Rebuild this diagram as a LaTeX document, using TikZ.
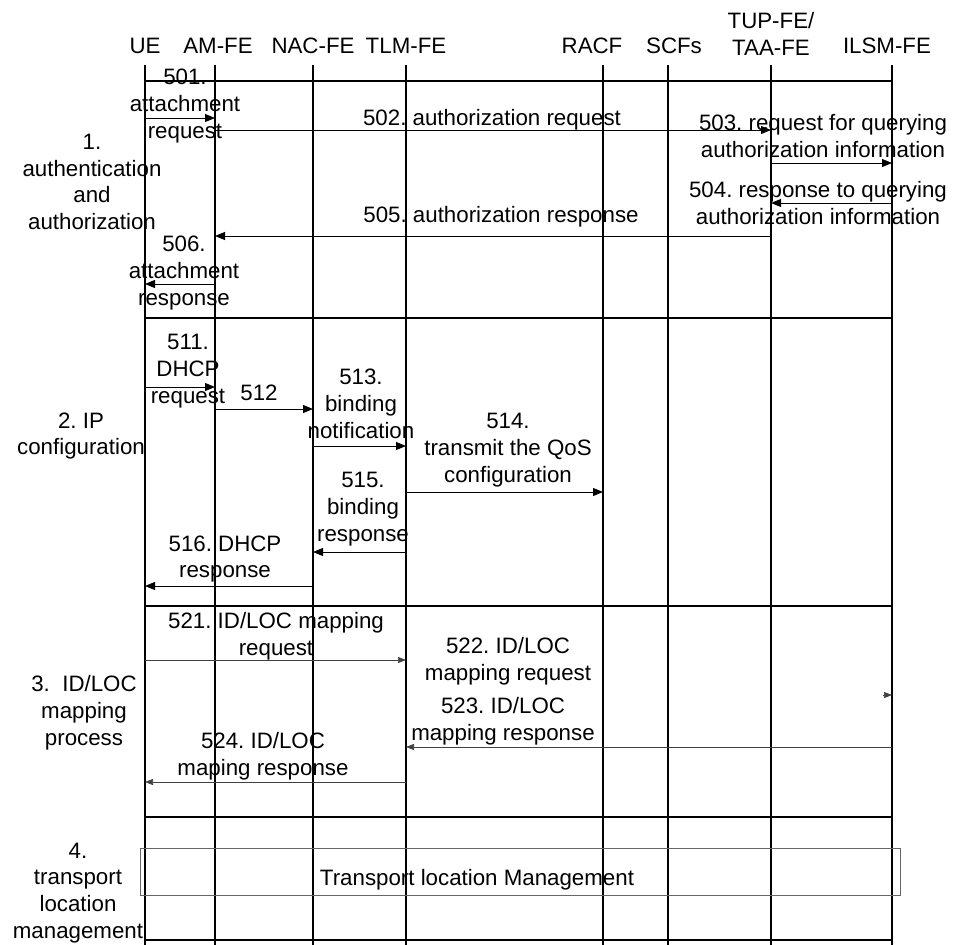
\documentclass[tikz,border=0pt]{standalone}
\usepackage{fontspec}
\setmainfont{Liberation Sans}
\usetikzlibrary{arrows.meta}
\frenchspacing
\begin{document}
\begin{tikzpicture}[x=1pt,y=-1pt,
  lbl/.style={font=\fontsize{22.3}{26.8}\selectfont\frenchspacing, align=center, inner sep=0pt},
  life/.style={line width=2pt},
  sepline/.style={line width=2.2pt},
  msg/.style={line width=1pt, -{Triangle[length=10pt,width=8pt]}},
  thinmsg/.style={line width=0.6pt, draw=black!75, -{Triangle[length=8pt,width=6pt]}},
  tlbox/.style={draw=black!60, line width=0.8pt}]
\useasboundingbox (0,0) rectangle (956,945);
% participants (headers)
\node[lbl, anchor=base] (hue)   at (145,53) {UE};
\node[lbl, anchor=base] (ham)   at (218,53) {AM-FE};
\node[lbl, anchor=base] (hnac)  at (313,53) {NAC-FE};
\node[lbl, anchor=base] (htlm)  at (406,53) {TLM-FE};
\node[lbl, anchor=base] (hracf) at (592,53) {RACF};
\node[lbl, anchor=base] (hscf)  at (674,53) {SCFs};
\node[lbl] (htup)  at (771,34) {TUP-FE/\\TAA-FE};
\node[lbl, anchor=base] (hilsm) at (887,53) {ILSM-FE};
% lifeline tops
\coordinate (ue) at (145,65);
\coordinate (am) at (215,65);
\coordinate (nac) at (313,65);
\coordinate (tlm) at (406,65);
\coordinate (racf) at (603,65);
\coordinate (scf) at (668,65);
\coordinate (tup) at (771,65);
\coordinate (ilsm) at (892,65);
\foreach \p in {ue,am,nac,racf,scf,tup,ilsm}
  \draw[life] (\p) -- (\p |- 0,945);
\draw[line width=2.6pt] (tlm) -- (tlm |- 0,945);
% section separators
\foreach \yy in {81,318,606,817,940}
  \draw[sepline] (ue |- 0,\yy) -- (ilsm |- 0,\yy);
% section labels
\node[lbl] (s1) at (92,182) {1.\\authentication\\and\\authorization};
\node[lbl] (s2) at (81,436) {2. IP\\configuration};
\node[lbl] (s3) at (84,713) {3.\ \ ID/LOC\\mapping\\process};
\node[lbl] (s4) at (78,893) {4.\\transport\\location\\management};
% section 1 messages
\draw[msg] (ue |- 0,118) -- (am |- 0,118);
\node[lbl] (l501) at (185,106) {501.\\attachment\\request};
\draw[msg] (am |- 0,130) -- (tup |- 0,130);
\node[lbl, anchor=base] (l502) at (492,125) {502. authorization request};
\draw[msg] (tup |- 0,163) -- (ilsm |- 0,163);
\node[lbl] (l503) at (823,136) {503. request for querying\\authorization information};
\draw[msg] (ilsm |- 0,203) -- (tup |- 0,203);
\node[lbl] (l504) at (818,203) {504. response to querying\\authorization information};
\draw[msg] (tup |- 0,236) -- (am |- 0,236);
\node[lbl, anchor=base] (l505) at (501,222) {505. authorization response};
\draw[msg] (am |- 0,284) -- (ue |- 0,284);
\node[lbl] (l506) at (184,273) {506.\\attachment\\response};
% section 2 messages
\draw[msg] (ue |- 0,387) -- (am |- 0,387);
\node[lbl] (l511) at (188,371) {511.\\DHCP\\request};
\draw[msg] (am |- 0,409) -- (nac |- 0,409);
\node[lbl, anchor=base] (l512) at (259,400) {512};
\draw[msg] (nac |- 0,446) -- (tlm |- 0,446);
\node[lbl] (l513) at (361,404) {513.\\binding\\notification};
\draw[msg] (tlm |- 0,492) -- (racf |- 0,492);
\node[lbl] (l514) at (508,450) {514.\\transmit the QoS\\configuration};
\draw[msg] (tlm |- 0,552) -- (nac |- 0,552);
\node[lbl] (l515) at (363,509) {515.\\binding\\response};
\draw[msg] (nac |- 0,586) -- (ue |- 0,586);
\node[lbl] (l516) at (225,559) {516. DHCP\\response};
% section 3 messages
\draw[thinmsg] (ue |- 0,660) -- (tlm |- 0,660);
\node[lbl] (l521) at (276,636) {521. ID/LOC mapping\\request};
\coordinate (t522) at ([xshift=-9pt]ilsm |- 0,695);
\draw[thinmsg] (t522) -- (ilsm |- 0,695);
\node[lbl] (l522) at (508,661) {522. ID/LOC\\mapping request};
\draw[thinmsg] (ilsm |- 0,747) -- (tlm |- 0,747);
\node[lbl] (l523) at (503,721) {523. ID/LOC\\mapping response};
\draw[thinmsg] (tlm |- 0,782) -- (ue |- 0,782);
\node[lbl] (l524) at (263,756) {524. ID/LOC\\maping response};
% section 4
\node[tlbox, minimum width=760pt, minimum height=47pt, inner sep=0pt] (tl) at (520,871.5) {};
\node[lbl, anchor=base] (ltl) at (477,885) {Transport location Management};
\end{tikzpicture}
\end{document}
